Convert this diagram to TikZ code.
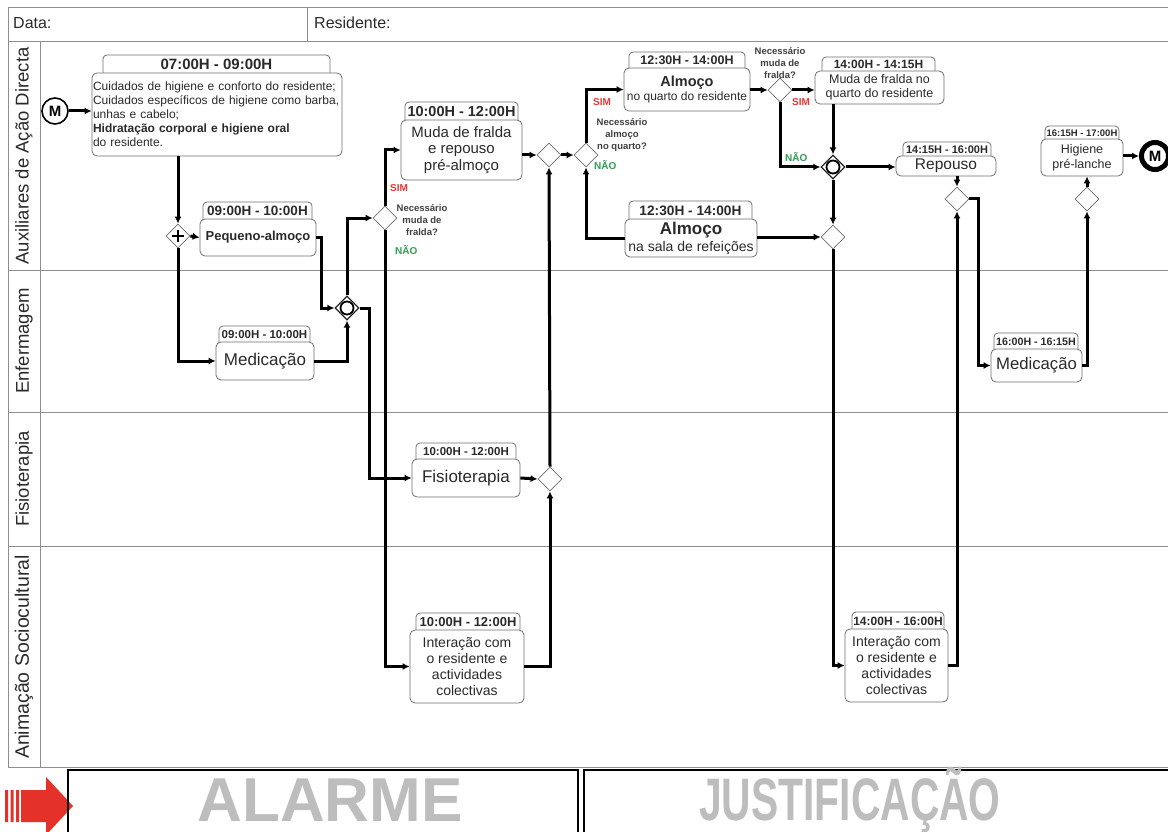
\documentclass[tikz,border=0pt]{standalone}
\usepackage{fontspec}
\setmainfont{Liberation Sans}
\usetikzlibrary{arrows.meta,shapes.geometric,calc}
\definecolor{lanegray}{HTML}{8E8E8E}
\definecolor{boxgray}{HTML}{6E6E6E}
\definecolor{txt}{HTML}{2A2A2A}
\definecolor{simred}{HTML}{E53935}
\definecolor{naogreen}{HTML}{2E9E50}
\definecolor{biggray}{HTML}{BDBDBD}
\definecolor{alarmred}{HTML}{E4322B}
\newcommand\Tab[7]{%
  \draw[tabline,rounded corners=4pt] (#2,#5+4) -- (#2,#4) -- (#3,#4) -- (#3,#5+4);
  \node[tabtxt,font=\bfseries\fontsize{#6}{#6}\selectfont] (#1) at ({(#2+#3)/2},{(#4+#5)/2+0.5}) {#7};
}
\newcommand\Body[7]{%
  \node[body,#6,minimum width={#4-#2},minimum height={#5-#3}] (#1) at ({(#2+#4)/2},{(#3+#5)/2}) {#7};
}
\begin{document}
\begin{tikzpicture}[x=1pt,y=-1pt,
  lane/.style={draw=lanegray,line width=1pt},
  flow/.style={line width=3pt,draw=black,-{Latex[length=7pt,width=7pt]}},
  flowback/.style={line width=3pt,draw=black,{Latex[length=7pt,width=7pt]}-},
  body/.style={draw=boxgray,line width=0.8pt,rounded corners=5pt,fill=white,text=txt,inner sep=1.5pt,align=center},
  tabline/.style={draw=boxgray,line width=0.8pt},
  tabtxt/.style={text=txt,inner sep=0pt},
  gw/.style={diamond,draw=boxgray,line width=0.8pt,fill=white,minimum width=24pt,minimum height=24pt,inner sep=0pt},
  ogw/.style={gw,draw=black!85,line width=1.3pt},
  qlabel/.style={font=\bfseries\fontsize{9.5}{12}\selectfont,text=txt!90,align=center,inner sep=0pt},
  simlbl/.style={font=\bfseries\fontsize{10}{10}\selectfont,text=simred,inner sep=0pt,anchor=west},
  naolbl/.style={font=\bfseries\fontsize{10}{10}\selectfont,text=naogreen,inner sep=0pt,anchor=west},
  lanelbl/.style={rotate=90,font=\fontsize{18.5}{18.5}\selectfont,text=txt,inner sep=0pt},
  hdr/.style={anchor=west,font=\fontsize{16}{16}\selectfont,text=txt,inner sep=0pt}
]
\useasboundingbox (0,0) rectangle (1168,832);
% frame and lanes
\draw[lane] (1170,8) -- (8,8) -- (8,767) -- (1170,767);
\draw[lane] (8,42) -- (1170,42);
\draw[lane] (307,8) -- (307,42);
\draw[lane] (40,42) -- (40,767);
\draw[lane] (8,270) -- (1170,270);
\draw[lane] (8,412) -- (1170,412);
\draw[lane] (8,546) -- (1170,546);
\node[hdr] (data) at (13,23) {Data:};
\node[hdr] (resid) at (314,23) {Residente:};
\node[lanelbl] (l1) at (24,156) {Auxiliares de Ação Directa};
\node[lanelbl] (l2) at (24,341) {Enfermagem};
\node[lanelbl] (l3) at (24,479) {Fisioterapia};
\node[lanelbl,font=\fontsize{19.5}{19.5}\selectfont] (l4) at (24,657) {Animação Sociocultural};

% tasks
\Tab{t1t}{103}{330}{55}{73}{15}{07:00H - 09:00H}
\Body{t1}{92}{73}{342}{156}{align=left,text width=248pt,inner xsep=1pt,font=\fontsize{12}{14}\selectfont}{Cuidados de higiene e conforto do residente;\\Cuidados específicos de higiene como barba,\\unhas e cabelo;\\\textbf{Hidratação corporal e higiene oral}\\do residente.}

\Tab{pat}{203}{312}{202}{219}{13.5}{09:00H - 10:00H}
\Body{pa}{200}{219}{316}{256}{font=\bfseries\fontsize{13}{13}\selectfont}{Pequeno-almoço}

\Tab{medt}{219}{310}{326}{342}{11.5}{09:00H - 10:00H}
\Body{med}{216}{342}{314}{380}{font=\fontsize{17}{17}\selectfont}{Medicação}

\Tab{mudat}{405}{518}{102}{120}{14.5}{10:00H - 12:00H}
\Body{muda}{401}{120}{522}{180}{font=\fontsize{15}{16.5}\selectfont}{Muda de fralda\\e repouso\\pré-almoço}

\Tab{aqt}{629}{745}{52}{68}{12.5}{12:30H - 14:00H}
\Body{aq}{624}{68}{750}{111}{font=\fontsize{12}{14}\selectfont}{{\bfseries\fontsize{14.5}{14}\selectfont Almoço}\\no quarto do residente}

\Tab{ast}{629}{752}{201}{219}{13.7}{12:30H - 14:00H}
\Body{as}{625}{219}{757}{257}{font=\fontsize{14}{17}\selectfont}{{\bfseries\fontsize{17}{17}\selectfont Almoço}\\na sala de refeições}

\Tab{mqt}{822}{935}{57}{71}{12}{14:00H - 14:15H}
\Body{mq}{815}{71}{944}{104}{font=\fontsize{12.5}{13.5}\selectfont}{Muda de fralda no\\quarto do residente}

\Tab{rept}{903}{991}{142}{156}{11}{14:15H - 16:00H}
\Body{rep}{896}{156}{996}{176}{font=\fontsize{15.5}{15.5}\selectfont,inner sep=0.5pt}{Repouso}

\Tab{higt}{1045}{1119}{126}{139}{9.5}{16:15H - 17:00H}
\Body{hig}{1041}{139}{1123}{176}{font=\fontsize{12.5}{15}\selectfont}{Higiene\\pré-lanche}

\Tab{med2t}{994}{1078}{333}{349}{10.7}{16:00H - 16:15H}
\Body{med2}{991}{349}{1082}{382}{font=\fontsize{16.7}{16.7}\selectfont}{Medicação}

\Tab{fist}{416}{516}{443}{459}{11.5}{10:00H - 12:00H}
\Body{fis}{412}{459}{520}{497}{font=\fontsize{17}{17}\selectfont}{Fisioterapia}

\Tab{int1t}{416}{520}{613}{630}{13}{10:00H - 12:00H}
\Body{int1}{410}{630}{524}{703}{font=\fontsize{14}{16}\selectfont}{Interação com\\o residente e\\actividades\\colectivas}

\Tab{int2t}{852}{944}{612}{629}{12}{14:00H - 16:00H}
\Body{int2}{845}{629}{948}{702}{font=\fontsize{14}{16}\selectfont}{Interação com\\o residente e\\actividades\\colectivas}

% events and gateways
\node[circle,draw=black,line width=1.6pt,minimum size=26pt,inner sep=0pt,font=\bfseries\fontsize{15}{15}\selectfont] (start) at (55,111) {M};
\node[circle,draw=black,line width=5pt,minimum size=27pt,inner sep=0pt,font=\bfseries\fontsize{15}{15}\selectfont] (endev) at (1155,156) {M};
\node[gw] (gp) at (178,236) {};
\draw[line width=1.2pt] ($(gp)+(-6,0)$) -- ($(gp)+(6,0)$) ($(gp)+(0,-6)$) -- ($(gp)+(0,6)$);
\node[ogw] (o1) at (347,308) {};
\node[circle,draw=black,line width=1.8pt,minimum size=13pt,inner sep=0pt] (o1c) at (o1) {};
\node[ogw] (o2) at (833,167) {};
\node[circle,draw=black,line width=1.8pt,minimum size=13pt,inner sep=0pt] (o2c) at (o2) {};
\node[gw] (d1) at (385,218) {};
\node[gw] (d2) at (549,155) {};
\node[gw] (d3) at (586,155) {};
\node[gw] (d4) at (780,90) {};
\node[gw] (d5) at (833,237) {};
\node[gw] (d6) at (957,199) {};
\node[gw] (d7) at (1087,199) {};
\node[gw] (d8) at (550,479) {};

% labels
\node[qlabel] (q1) at (422,220) {Necessário\\muda de\\fralda?};
\node[simlbl] (s1) at (390,188) {SIM};
\node[naolbl] (n1) at (395,250) {NÃO};
\node[qlabel] (q3) at (622,135) {Necessário\\almoço\\no quarto?};
\node[simlbl] (s3) at (593,102) {SIM};
\node[naolbl] (n3) at (594,165) {NÃO};
\node[qlabel] (q4) at (780,63) {Necessário\\muda de\\fralda?};
\node[simlbl] (s4) at (792,102) {SIM};
\node[naolbl] (n4) at (785,157) {NÃO};

% flows
\draw[flow] (start) -- (start -| t1.west);
\draw[flow] (gp |- t1.south) -- (gp.north);
\draw[flow] (gp.east) -- (pa.west);
\draw[flow] (gp.south) |- (med.west);
\draw[flow] (pa.east) -- ++(5,0) |- (o1.west);
\draw[flow] (med.east) -| (o1.south);
\draw[flow] (o1.north) |- (d1.west);
\draw[flow] (o1.east) -- ++(10,0) |- (fis.west);
\draw[flow] (d1.north) |- (muda.west);
\draw[flow] (d1.south) |- (int1.west);
\draw[flow] (int1.east) -| (d8.south);
\draw[flow] (fis.east) -- (d8.west);
\draw[flow] (d8.north) -- (d2.south);
\draw[flow] (muda.east |- d2) -- (d2.west);
\draw[flow] (d2.east) -- (d3.west);
\draw[flow] (d3.north) |- (aq.west);
\draw[flowback] (d3.south) |- (as.west);
\draw[flow] (aq.east |- d4) -- (d4.west);
\draw[flow] (d4.east) -- (d4 -| mq.west);
\draw[flow] (d4.south) |- (o2.west);
\draw[flow] (o2 |- mq.south) -- (o2.north);
\draw[flow] (o2.east) -- (o2 -| rep.west);
\draw[flow] (o2.south) -- (d5.north);
\draw[flow] (as.east |- d5) -- (d5.west);
\draw[flow] (d5.south) |- (int2.west);
\draw[flow] (int2.east) -| (d6.south);
\draw[flow] (d6 |- rep.south) -- (d6.north);
\draw[flow] (d6.east) -- ++(9,0) |- (med2.west);
\draw[flow] (med2.east) -| (d7.south);
\draw[flow] (d7.north) -- (d7 |- hig.south);
\draw[flow] (hig.east |- endev) -- (endev.west);

% bottom bar
\fill[alarmred] (5,790) rectangle (8,822) (10.5,790) rectangle (13.5,822) (16,790) rectangle (19,822);
\fill[alarmred] (21,790) -- (46,790) -- (46,777) -- (73,806) -- (46,835) -- (46,822) -- (21,822) -- cycle;
\draw[line width=2.5pt] (68,845) -- (68,770) -- (578,770) -- (578,845);
\draw[line width=2.5pt] (584,845) -- (584,770) -- (1175,770);
\node[anchor=base,font=\bfseries\fontsize{62}{62}\selectfont,text=biggray,inner sep=0pt] (alarme) at (330,821) {ALARME};
\node[anchor=base,xscale=0.68,font=\bfseries\fontsize{60}{60}\selectfont,text=biggray,inner sep=0pt] (just) at (850,820) {JUSTIFICAÇÃO};
\end{tikzpicture}
\end{document}
